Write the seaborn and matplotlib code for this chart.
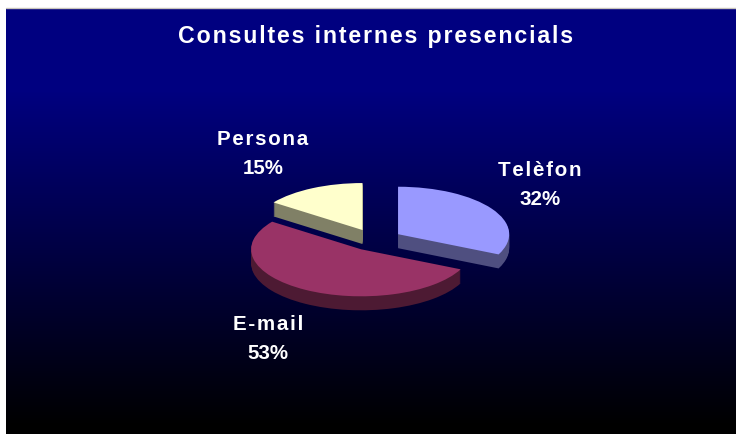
import numpy as np
import seaborn as sns
import matplotlib
matplotlib.use('Agg')
import matplotlib.pyplot as plt

title = 'Consultes internes presencials'
labels = ['Telèfon', 'E-mail', 'Persona']
values = [32, 53, 15]
explode = [0.27, 0.23, 0.19]
top_colors = ['#9999FF', '#993366', '#FFFFCC']
wall_colors = ['#4F4F80', '#4D1A33', '#808066']

sns.set_theme(style='white')
plt.rcParams['font.family'] = ['Liberation Sans', 'DejaVu Sans']

W, H = 736, 434
fig = plt.figure(figsize=(W / 100, H / 100), dpi=100)

# gradient panel, white margin left and top
bg = fig.add_axes([6 / W, 0, (W - 6) / W, (H - 8) / H])
cmap = sns.blend_palette(['#000080', '#000000'], as_cmap=True)
grad = np.clip((np.arange(8, H) - 90) / 335, 0, 1).reshape(-1, 1)
bg.imshow(grad, aspect='auto', cmap=cmap)
bg.set_axis_off()
fig.add_artist(plt.Line2D([6 / W, 1], [1 - 7.5 / H] * 2, color='#C8C4BC', lw=1))

ax = fig.add_axes([0, 0, 1, 1])
cx, cy, rx, ry = 372, 238, 110, 47
depth = 14
for d in list(range(depth, 0, -1)) + [0]:
    cols = top_colors if d == 0 else wall_colors
    wedges, _ = ax.pie(values, explode=explode, colors=cols, startangle=90,
                       counterclock=False, center=(0, -d / ry),
                       wedgeprops={'linewidth': 0})
    # small nudges, the plain exploded slices sit slightly off
    wedges[0].set_center((wedges[0].center[0] + 1 / rx, wedges[0].center[1] - 3 / ry))
    wedges[0].set_radius(1.01)
    wedges[1].set_center((wedges[1].center[0] + 2 / rx, wedges[1].center[1] - 2 / ry))
ax.set_aspect('auto')
ax.set_xlim(-cx / rx, (W - cx) / rx)
ax.set_ylim((cy - H) / ry, cy / ry)
ax.patch.set_alpha(0)


def px_text(x, y, s, size):
    fig.text(x / W, 1 - y / H, s, color='white', fontsize=size, fontweight='bold',
             ha='center', va='center', linespacing=1.72)


px_text(376, 36, '\u200a'.join(title), 16.7)
for name, v, x, y in zip(labels, values, [540, 268, 263], [185, 339, 154]):
    px_text(x, y, '\u200a'.join(name) + f'\n{v}%', 14.8)

fig.savefig('out.png', dpi=100)
